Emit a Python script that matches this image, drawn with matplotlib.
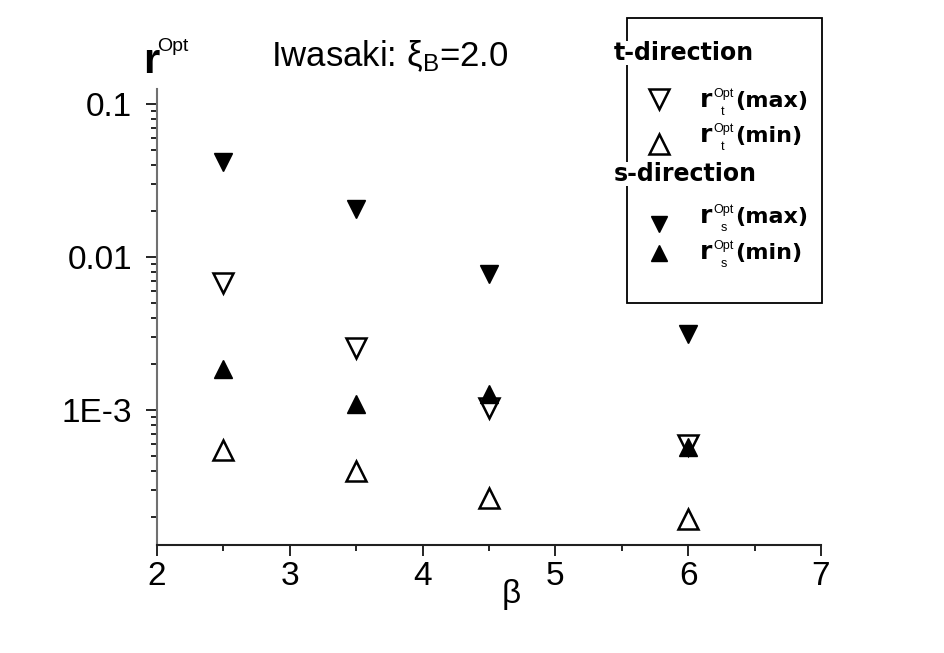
import matplotlib
matplotlib.use("Agg")
import matplotlib.pyplot as plt
from matplotlib.lines import Line2D
from matplotlib.patches import Rectangle
from matplotlib.ticker import FixedLocator, LogLocator, NullFormatter, FuncFormatter

plt.rcParams['font.family'] = ['Liberation Sans', 'DejaVu Sans']
plt.rcParams['mathtext.fontset'] = 'custom'
plt.rcParams['mathtext.rm'] = 'Liberation Sans'
plt.rcParams['mathtext.it'] = 'Liberation Sans:italic'
plt.rcParams['mathtext.bf'] = 'Liberation Sans:bold'

# ---- data ----
beta = [2.5, 3.5, 4.5, 6.0]
t_max = [6.73e-3, 2.53e-3, 1.03e-3, 5.9e-4]
t_min = [5.5e-4, 4.0e-4, 2.66e-4, 1.93e-4]
s_max = [4.17e-2, 2.05e-2, 7.8e-3, 3.12e-3]
s_min = [1.85e-3, 1.09e-3, 1.28e-3, 5.7e-4]

y_major = [1e-3, 1e-2, 1e-1]
y_major_labels = ['1E-3', '0.01', '0.1']
x_major = [2, 3, 4, 5, 6, 7]
x_minor = [2.5, 3.5, 4.5, 5.5, 6.5]

W, H = 945, 653
fig = plt.figure(figsize=(W / 100, H / 100), dpi=100)
fig.patch.set_facecolor('white')

ax = fig.add_axes([157 / W, 108.5 / H, 664 / W, 455.5 / H])
ax.set_yscale('log')
ax.set_xlim(2, 7)
ax.set_ylim(10 ** -3.88, 10 ** -0.9)

open_kw = dict(linestyle='none', markerfacecolor='white', markeredgecolor='black',
               markeredgewidth=1.8, markersize=14)
fill_kw = dict(linestyle='none', color='black', markersize=13)

ax.plot(beta, t_max, marker='v', **open_kw, zorder=3)
ax.plot(beta, t_min, marker='^', **open_kw, zorder=3)
ax.plot(beta, s_max, marker='v', **fill_kw, zorder=4)
ax.plot(beta, s_min, marker='^', **fill_kw, zorder=4)

for side in ['top', 'right']:
    ax.spines[side].set_visible(False)
ax.spines['left'].set_color('#707070')
ax.spines['bottom'].set_color('#202020')
ax.spines['left'].set_linewidth(1.5)
ax.spines['bottom'].set_linewidth(1.5)

ax.yaxis.set_major_locator(FixedLocator(y_major))
lab = dict(zip(y_major, y_major_labels))
ax.yaxis.set_major_formatter(FuncFormatter(lambda v, p: lab.get(min(lab, key=lambda k: abs(k - v)), '')))
ax.yaxis.set_minor_locator(LogLocator(base=10, subs=[2, 3, 4, 5, 6, 7, 8, 9], numticks=20))
ax.yaxis.set_minor_formatter(NullFormatter())
ax.xaxis.set_major_locator(FixedLocator(x_major))
ax.xaxis.set_minor_locator(FixedLocator(x_minor))

ax.tick_params(axis='both', which='major', direction='out', length=8, width=1.2,
               labelsize=24, color='black')
ax.tick_params(axis='both', which='minor', direction='out', length=4.5, width=1.2, color='black')
ax.tick_params(axis='y', which='major', pad=10)
ax.tick_params(axis='x', which='major', pad=4)

# axis labels and title
fig.text(143 / W, 1 - 73 / H, 'r', fontsize=30, fontweight='bold', va='baseline', ha='left')
fig.text(157 / W, 1 - 51 / H, 'Opt', fontsize=14, va='baseline', ha='left')
fig.text(271 / W, 1 - 66 / H, r'Iwasaki: $\mathrm{\xi}_{\mathrm{B}}$=2.0', fontsize=25,
         va='baseline', ha='left')
fig.text(502 / W, 1 - 603 / H, 'β', fontsize=24, va='baseline', ha='left')

# legend box
fig.add_artist(Rectangle((627 / W, 1 - 303 / H), 195 / W, 285 / H, transform=fig.transFigure,
                         facecolor='white', edgecolor='black', linewidth=1.3, zorder=5))
hdr_kw = dict(fontsize=17, fontweight='bold', family='DejaVu Sans', va='baseline', ha='left',
              zorder=6, bbox=dict(facecolor='white', edgecolor='none', pad=0))
fig.text(614 / W, 1 - 60 / H, 't-direction', **hdr_kw)
fig.text(614 / W, 1 - 181 / H, 's-direction', **hdr_kw)

entries = [
    ('v', 'open', 99, 107, 't', 'max'),
    ('^', 'open', 144, 142, 't', 'min'),
    ('v', 'fill', 224, 223, 's', 'max'),
    ('^', 'fill', 253, 259, 's', 'min'),
]
for mk, style, ym, yt, sub, word in entries:
    if style == 'open':
        kw2 = dict(open_kw)
        kw2['markersize'] = 14
    else:
        kw2 = dict(fill_kw)
        kw2['markersize'] = 11.5
    fig.add_artist(Line2D([659 / W], [1 - ym / H], marker=mk, transform=fig.transFigure,
                          zorder=6, **kw2))
    fig.text(700 / W, 1 - yt / H, 'r', fontsize=18, fontweight='bold', family='DejaVu Sans',
             va='baseline', ha='left', zorder=6)
    fig.text(713 / W, 1 - (yt - 10) / H, 'Opt', fontsize=9, va='baseline', ha='left', zorder=6)
    fig.text(721 / W, 1 - (yt + 8) / H, sub, fontsize=9, va='baseline', ha='left', zorder=6)
    fig.text(735 / W, 1 - yt / H, '(%s)' % word, fontsize=16, fontweight='bold',
             family='DejaVu Sans', va='baseline', ha='left', zorder=6)

fig.savefig('out.png', dpi=100, facecolor='white')
